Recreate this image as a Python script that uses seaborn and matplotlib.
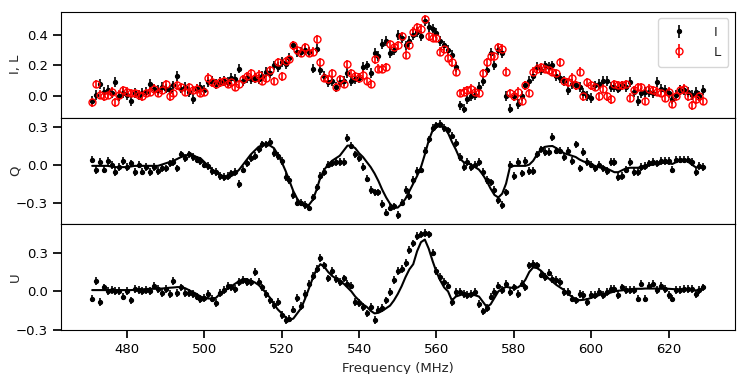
import matplotlib
matplotlib.use("Agg")
import matplotlib.pyplot as plt
from matplotlib.ticker import MultipleLocator, FuncFormatter
import seaborn as sns
import pandas as pd

# channel frequencies (MHz)
FREQ = [
    471, 472, 473, 474, 475, 476, 477, 478, 479, 480, 481, 482, 483, 484, 485, 486, 487, 488, 489, 490,
    491, 492, 493, 494, 495, 496, 497, 498, 499, 500, 501, 502, 503, 504, 505, 506, 507, 508, 509, 510,
    511, 512, 513, 514, 515, 516, 517, 518, 519, 520, 521, 522, 523, 524, 525, 526, 527, 528, 529, 530,
    531, 532, 533, 534, 535, 536, 537, 538, 539, 540, 541, 542, 543, 544, 545, 546, 547, 548, 549, 550,
    551, 552, 553, 554, 555, 556, 557, 558, 559, 560, 561, 562, 563, 564, 565, 566, 567, 568, 569, 570,
    571, 572, 573, 574, 575, 576, 577, 578, 579, 580, 581, 582, 583, 584, 585, 586, 587, 588, 589, 590,
    591, 592, 593, 594, 595, 596, 597, 598, 599, 600, 601, 602, 603, 604, 605, 606, 607, 608, 609, 610,
    611, 612, 613, 614, 615, 616, 617, 618, 619, 620, 621, 622, 623, 624, 625, 626, 627, 628, 629,
]

I_VALS = [
    -0.03, 0.01, 0.08, 0.03, 0.04, 0.02, 0.09, 0.00, 0.02, 0.01, -0.03, 0.02, 0.01, 0.02, 0.03, 0.08, 0.05, 0.04, 0.06, 0.05,
    0.04, 0.07, 0.13, 0.05, 0.06, 0.03, -0.02, 0.05, 0.06, 0.04, 0.09, 0.10, 0.08, 0.09, 0.10, 0.09, 0.12, 0.11, 0.18, 0.10,
    0.12, 0.11, 0.12, 0.11, 0.13, 0.16, 0.15, 0.20, 0.19, 0.22, 0.21, 0.25, 0.33, 0.29, 0.29, 0.30, 0.29, 0.18, 0.31, 0.17,
    0.13, 0.09, 0.10, 0.06, 0.09, 0.10, 0.15, 0.10, 0.11, 0.12, 0.19, 0.20, 0.15, 0.28, 0.26, 0.34, 0.36, 0.28, 0.30, 0.40,
    0.38, 0.33, 0.36, 0.40, 0.42, 0.39, 0.49, 0.45, 0.44, 0.41, 0.36, 0.33, 0.30, 0.27, 0.19, -0.06, -0.08, -0.02, 0.00, 0.01,
    0.06, 0.10, 0.17, 0.28, 0.20, 0.30, 0.28, 0.00, -0.08, 0.00, -0.05, 0.00, 0.07, 0.10, 0.13, 0.19, 0.17, 0.20, 0.19, 0.20,
    0.13, 0.12, 0.10, 0.04, 0.08, 0.07, 0.06, 0.02, 0.00, -0.01, 0.07, 0.08, 0.10, 0.10, 0.06, 0.06, 0.05, 0.07, 0.06, 0.09,
    0.03, -0.03, 0.02, 0.03, 0.03, 0.02, 0.09, 0.05, 0.04, 0.02, -0.02, 0.01, 0.04, 0.04, 0.03, 0.01, 0.03, 0.00, 0.04,
]

L_VALS = [
    -0.04, 0.08, 0.01, 0.00, 0.01, 0.03, -0.04, 0.01, 0.04, 0.03, 0.02, 0.02, 0.01, 0.00, 0.02, 0.03, 0.05, 0.02, 0.04, 0.08,
    0.00, 0.02, 0.07, 0.06, 0.03, 0.06, 0.04, 0.05, 0.02, 0.03, 0.12, 0.09, 0.08, 0.09, 0.10, 0.08, 0.09, 0.06, 0.08, 0.11,
    0.13, 0.15, 0.12, 0.14, 0.10, 0.12, 0.17, 0.10, 0.22, 0.13, 0.23, 0.24, 0.33, 0.30, 0.28, 0.32, 0.28, 0.29, 0.37, 0.22,
    0.12, 0.11, 0.15, 0.06, 0.11, 0.08, 0.21, 0.15, 0.13, 0.12, 0.14, 0.10, 0.08, 0.24, 0.18, 0.18, 0.19, 0.34, 0.32, 0.33,
    0.39, 0.27, 0.33, 0.42, 0.45, 0.44, 0.50, 0.39, 0.38, 0.38, 0.29, 0.31, 0.25, 0.22, 0.16, 0.02, 0.03, 0.04, 0.05, 0.03,
    0.02, 0.15, 0.22, 0.26, 0.26, 0.32, 0.31, 0.16, 0.02, 0.00, 0.03, -0.03, 0.07, 0.02, 0.16, 0.18, 0.19, 0.18, 0.17, 0.16,
    0.15, 0.22, 0.10, 0.09, 0.12, 0.07, 0.16, 0.00, 0.09, 0.07, 0.06, 0.00, 0.05, 0.00, -0.02, 0.08, 0.07, 0.07, 0.08, -0.01,
    0.04, 0.06, 0.06, -0.03, 0.05, 0.04, 0.03, 0.02, -0.01, 0.03, -0.05, 0.00, 0.04, 0.05, 0.00, -0.06, -0.02, 0.00, -0.03,
]

Q_VALS = [
    0.04, -0.045, 0.02, -0.04, 0.03, -0.005, -0.06, -0.02, 0.03, -0.02, 0.01, -0.06, 0.00, -0.055, -0.02, -0.06, -0.02, -0.05, -0.03, -0.03,
    0.01, 0.02, -0.03, 0.08, 0.05, 0.08, 0.06, 0.04, 0.03, 0.00, -0.01, -0.05, -0.06, -0.09, -0.10, -0.09, -0.07, -0.06, -0.155, -0.04,
    0.01, 0.05, 0.07, 0.12, 0.16, 0.16, 0.18, 0.09, 0.07, 0.03, -0.10, -0.12, -0.24, -0.30, -0.30, -0.32, -0.34, -0.26, -0.18, -0.09,
    -0.06, 0.00, 0.01, 0.02, 0.02, 0.02, 0.21, 0.15, 0.08, 0.05, -0.02, -0.11, -0.20, -0.22, -0.22, -0.31, -0.38, -0.34, -0.33, -0.40,
    -0.30, -0.20, -0.25, -0.12, -0.05, -0.04, 0.11, 0.20, 0.29, 0.31, 0.32, 0.29, 0.27, 0.23, 0.17, 0.06, -0.02, 0.02, -0.02, 0.00,
    0.02, -0.06, -0.12, -0.14, -0.20, -0.28, -0.32, -0.22, 0.00, -0.09, 0.02, -0.07, 0.03, -0.05, -0.05, 0.08, 0.12, 0.10, 0.10, 0.22,
    0.11, 0.11, 0.06, 0.11, 0.03, 0.16, -0.03, 0.10, 0.02, 0.00, -0.03, 0.00, -0.03, -0.05, 0.02, 0.02, -0.10, -0.09, -0.04, 0.02,
    -0.06, -0.06, -0.02, -0.01, 0.01, 0.02, 0.01, 0.03, 0.03, 0.03, -0.04, 0.04, 0.04, 0.04, 0.04, 0.02, -0.06, -0.01, -0.02,
]

Q_MODEL = [
    -0.01, -0.01, -0.01, -0.01, -0.01, -0.015, -0.02, -0.02, -0.02, -0.02, -0.015, -0.01, -0.01, -0.01, -0.01, -0.01, -0.01, -0.01, 0.00, 0.01,
    0.02, 0.03, 0.045, 0.06, 0.07, 0.08, 0.075, 0.06, 0.05, 0.02, -0.01, -0.04, -0.06, -0.08, -0.095, -0.10, -0.09, -0.07, -0.04, 0.00,
    0.04, 0.08, 0.11, 0.14, 0.155, 0.16, 0.15, 0.13, 0.08, 0.02, -0.05, -0.13, -0.21, -0.27, -0.31, -0.33, -0.32, -0.28, -0.20, -0.10,
    -0.04, 0.00, 0.03, 0.05, 0.07, 0.11, 0.15, 0.15, 0.13, 0.09, 0.06, 0.02, -0.02, -0.07, -0.13, -0.20, -0.26, -0.31, -0.34, -0.34,
    -0.31, -0.27, -0.21, -0.15, -0.09, -0.02, 0.08, 0.19, 0.27, 0.30, 0.305, 0.29, 0.25, 0.18, 0.12, 0.05, 0.02, 0.01, 0.00, -0.02,
    -0.04, -0.08, -0.13, -0.19, -0.24, -0.26, -0.23, -0.15, -0.02, -0.01, -0.01, -0.01, -0.01, 0.00, 0.03, 0.08, 0.12, 0.14, 0.145, 0.147,
    0.13, 0.11, 0.09, 0.08, 0.07, 0.06, 0.04, 0.025, 0.015, 0.00, -0.01, -0.02, -0.03, -0.03, -0.045, -0.06, -0.06, -0.045, -0.03, -0.025,
    -0.025, -0.025, -0.02, -0.01, -0.005, 0.00, 0.005, 0.01, 0.015, 0.01, 0.005, 0.02, 0.04, 0.04, 0.025, 0.00, -0.02, -0.025, -0.025,
]

U_VALS = [
    -0.055, 0.08, -0.08, 0.03, 0.00, 0.01, 0.00, 0.00, -0.04, 0.00, -0.07, 0.02, 0.01, 0.00, 0.01, 0.005, 0.045, 0.02, -0.01, 0.02,
    -0.02, 0.08, -0.01, 0.03, -0.01, -0.01, -0.02, -0.04, -0.06, -0.05, -0.02, -0.055, -0.09, -0.01, 0.01, 0.04, 0.03, 0.02, 0.07, 0.085,
    0.075, 0.075, 0.15, 0.075, 0.03, -0.02, -0.07, -0.105, -0.08, -0.18, -0.22, -0.21, -0.14, -0.05, -0.11, -0.02, 0.06, 0.12, 0.17, 0.26,
    0.20, 0.10, 0.16, 0.095, 0.07, 0.10, 0.06, 0.045, -0.08, -0.09, -0.12, -0.17, -0.12, -0.22, -0.14, -0.13, -0.07, -0.005, 0.085, 0.16,
    0.17, 0.22, 0.32, 0.37, 0.425, 0.44, 0.45, 0.44, 0.30, 0.16, 0.11, 0.07, 0.045, -0.08, -0.005, -0.005, -0.02, -0.03, -0.02, -0.005,
    -0.10, -0.155, -0.13, -0.04, -0.005, 0.045, 0.01, 0.06, -0.005, 0.03, -0.02, 0.06, 0.03, 0.20, 0.21, 0.20, 0.13, 0.11, 0.145, 0.095,
    0.085, 0.07, -0.005, -0.005, -0.055, -0.07, -0.02, -0.03, -0.08, -0.03, -0.03, -0.005, -0.03, -0.005, 0.02, 0.02, -0.03, 0.03, 0.01, 0.01,
    0.01, -0.055, 0.06, -0.055, 0.045, 0.06, 0.01, 0.045, 0.02, -0.03, -0.055, 0.01, 0.01, 0.02, 0.02, 0.02, -0.02, 0.01, 0.03,
]

U_MODEL = [
    0.01, 0.01, 0.01, 0.01, 0.01, 0.01, 0.01, 0.01, 0.01, 0.01, 0.01, 0.012, 0.014, 0.016, 0.018, 0.02, 0.02, 0.02, 0.022, 0.025,
    0.028, 0.03, 0.033, 0.033, 0.025, 0.01, -0.005, -0.02, -0.04, -0.05, -0.055, -0.055, -0.05, -0.02, 0.005, 0.02, 0.04, 0.06, 0.08, 0.095,
    0.095, 0.08, 0.07, 0.05, 0.02, -0.015, -0.05, -0.10, -0.14, -0.17, -0.20, -0.22, -0.21, -0.17, -0.13, -0.06, 0.02, 0.10, 0.17, 0.21,
    0.19, 0.15, 0.12, 0.10, 0.08, 0.06, 0.03, 0.00, -0.04, -0.07, -0.10, -0.12, -0.15, -0.17, -0.165, -0.15, -0.13, -0.11, -0.07, -0.02,
    0.04, 0.11, 0.17, 0.21, 0.31, 0.38, 0.40, 0.33, 0.235, 0.15, 0.084, 0.03, 0.00, -0.07, -0.04, -0.03, -0.02, -0.02, -0.02, -0.03,
    -0.04, -0.08, -0.12, -0.10, -0.05, 0.00, 0.02, 0.035, 0.03, 0.025, 0.03, 0.05, 0.09, 0.15, 0.185, 0.18, 0.16, 0.13, 0.10, 0.075,
    0.05, 0.03, 0.01, -0.02, -0.04, -0.06, -0.068, -0.065, -0.06, -0.05, -0.04, -0.03, -0.02, -0.015, -0.01, 0.00, 0.005, 0.008, 0.012, 0.015,
    0.02, 0.02, 0.02, 0.022, 0.022, 0.022, 0.022, 0.02, 0.02, 0.02, 0.018, 0.016, 0.015, 0.013, 0.01, 0.008, 0.008, 0.01, 0.02,
]

I_ERR = 0.032
L_ERR = 0.028
QU_ERR = 0.03


def _points(ax, y, err, color, hollow=False, label=None):
    ax.errorbar(
        FREQ, y, yerr=err, fmt='o', color=color,
        ms=5.0 if hollow else 2.8, mfc='none' if hollow else color,
        mew=1.0, elinewidth=1.2, capsize=0, label=label, zorder=3
    )


def _model(ax, y):
    df = pd.DataFrame({'freq': FREQ, 'model': y})
    sns.lineplot(data=df, x='freq', y='model', color='black', linewidth=1.5, ax=ax, zorder=2)


def _fmt(v, pos):
    return '{:.1f}'.format(v).replace('-', '\u2212')


sns.set_theme(style='ticks', rc={
    'axes.edgecolor': 'black', 'axes.linewidth': 0.8,
    'xtick.color': 'black', 'ytick.color': 'black',
    'xtick.labelsize': 9.5, 'ytick.labelsize': 9.5, 'axes.labelsize': 9.5,
    'legend.fontsize': 9.5,
})
plt.rcParams['font.family'] = ['DejaVu Sans']

fig, axes = plt.subplots(3, 1, figsize=(7.47, 3.74), dpi=100, sharex=True)
fig.subplots_adjust(left=0.082, right=0.984, top=0.969, bottom=0.117, hspace=0)
ax_il, ax_q, ax_u = axes

_points(ax_il, I_VALS, I_ERR, 'black', label='I')
_points(ax_il, L_VALS, L_ERR, 'red', hollow=True, label='L')
ax_il.set_ylim(-0.14, 0.55)
ax_il.yaxis.set_major_locator(MultipleLocator(0.2))
ax_il.set_ylabel('I, L')
ax_il.legend(loc='upper right', frameon=True, handletextpad=1.6, borderpad=0.6,
             handlelength=2.0)

_points(ax_q, Q_VALS, QU_ERR, 'black')
_model(ax_q, Q_MODEL)
ax_q.set_ylim(-0.47, 0.37)
ax_q.yaxis.set_major_locator(MultipleLocator(0.3))
ax_q.set_ylabel('Q')

_points(ax_u, U_VALS, QU_ERR, 'black')
_model(ax_u, U_MODEL)
ax_u.set_ylim(-0.3, 0.52)
ax_u.yaxis.set_major_locator(MultipleLocator(0.3))
ax_u.set_ylabel('U')

for ax in (ax_il, ax_q):
    ax.tick_params(axis='x', bottom=False, labelbottom=False)
for ax in axes:
    ax.yaxis.set_major_formatter(FuncFormatter(_fmt))
    ax.yaxis.set_label_coords(-0.058, 0.5)

ax_u.set_xlim(463.0, 637.2)
ax_u.xaxis.set_major_locator(MultipleLocator(20))
ax_u.set_xlabel('Frequency (MHz)')

fig.savefig('out.png', dpi=100)
